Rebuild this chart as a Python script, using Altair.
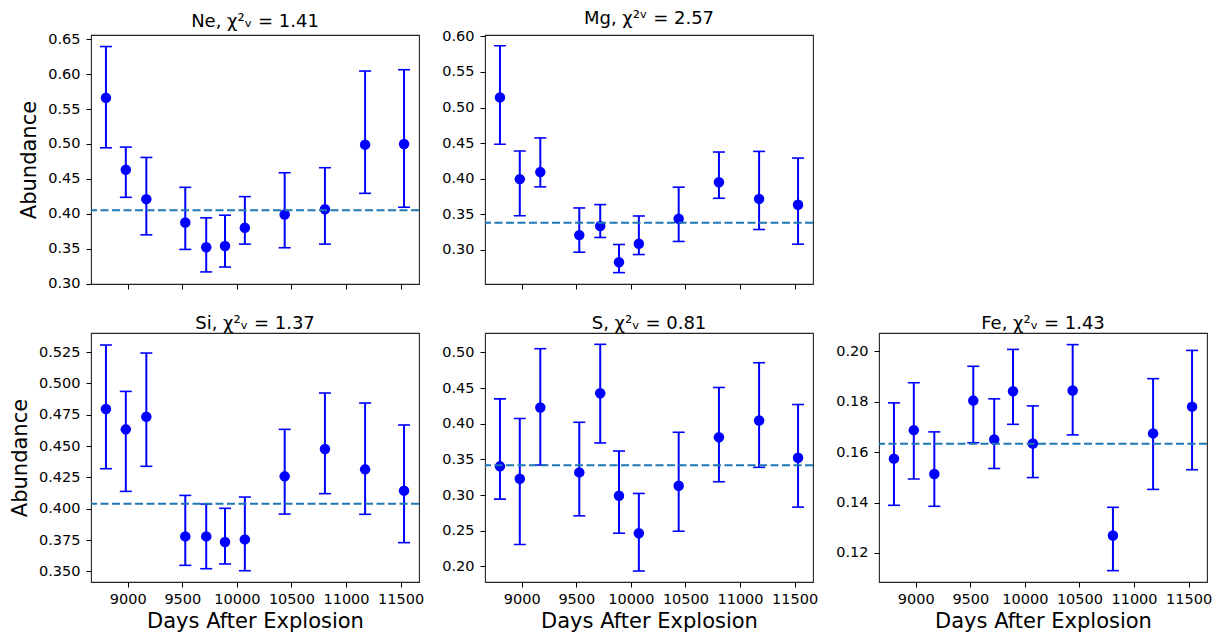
import altair as alt
import pandas as pd

# ---- data ----
days = [8800, 8982, 9170, 9527, 9719, 9891, 10073, 10438, 10807, 11175, 11532]
x_ticks = [9000, 9500, 10000, 10500, 11000, 11500]
x_domain = [8663, 11669]

ne_val = [0.566, 0.463, 0.421, 0.3875, 0.352, 0.354, 0.380, 0.399, 0.4065, 0.499, 0.500]
ne_hi = [0.6395, 0.4955, 0.4807, 0.4379, 0.3942, 0.398, 0.4246, 0.4588, 0.466, 0.6044, 0.6063]
ne_lo = [0.4945, 0.4236, 0.3699, 0.349, 0.3168, 0.3238, 0.3566, 0.3514, 0.3566, 0.4293, 0.4094]
ne_mean = 0.405

mg_val = [0.5143, 0.3994, 0.4093, 0.3207, 0.3334, 0.2826, 0.3085, 0.3438, 0.3951, 0.3716, 0.3635]
mg_hi = [0.5868, 0.4389, 0.4573, 0.3589, 0.3636, 0.3075, 0.3476, 0.3881, 0.4375, 0.4384, 0.4290]
mg_lo = [0.4484, 0.348, 0.3885, 0.2967, 0.3174, 0.268, 0.2934, 0.3118, 0.3725, 0.3286, 0.308]
mg_mean = 0.338

si_val = [0.4795, 0.4633, 0.4734, 0.3779, 0.3779, 0.3734, 0.3755, 0.4258, 0.4476, 0.4314, 0.4144]
si_hi = [0.5306, 0.4936, 0.5242, 0.4106, 0.4037, 0.4003, 0.4093, 0.4633, 0.4923, 0.4843, 0.4668]
si_lo = [0.4319, 0.4138, 0.4338, 0.3548, 0.3521, 0.3559, 0.3505, 0.3957, 0.412, 0.3955, 0.3729]
si_mean = 0.404

s_val = [0.3402, 0.3228, 0.4227, 0.3317, 0.4428, 0.2989, 0.2464, 0.313, 0.381, 0.4044, 0.3523]
s_hi = [0.4348, 0.4072, 0.5052, 0.402, 0.5113, 0.3617, 0.3022, 0.388, 0.4508, 0.4855, 0.4269]
s_lo = [0.2942, 0.2305, 0.342, 0.2708, 0.373, 0.2464, 0.1934, 0.2492, 0.3186, 0.3388, 0.283]
s_mean = 0.3416

fe_val = [0.1574, 0.1687, 0.1513, 0.1804, 0.165, 0.1841, 0.1634, 0.1844, 0.1269, 0.1674, 0.178]
fe_hi = [0.1795, 0.1875, 0.168, 0.194, 0.1811, 0.2007, 0.1783, 0.2026, 0.1381, 0.1891, 0.2003]
fe_lo = [0.1389, 0.1493, 0.1385, 0.1637, 0.1535, 0.171, 0.1499, 0.1668, 0.113, 0.1452, 0.153]
fe_mean = 0.1633

titles = {
    "Ne": "Ne, χ²ᵥ = 1.41",
    "Mg": "Mg, χ²ᵛ = 2.57",
    "Si": "Si, χ²ᵥ = 1.37",
    "S": "S, χ²ᵥ = 0.81",
    "Fe": "Fe, χ²ᵥ = 1.43",
}

FONT = "DejaVu Sans"
W, H = 328, 249


def panel(key, val, lo, hi, mean, ydom, yticks, yfmt, xlabels, ytitle):
    df = pd.DataFrame({"day": days, "val": val, "lo": lo, "hi": hi})
    xaxis = alt.Axis(
        values=x_ticks, format="d", labels=xlabels,
        title="Days After Explosion" if xlabels else None,
        grid=False, domain=False, tickColor="black", tickSize=5,
        labelFontSize=14.5, labelColor="black", labelPadding=5,
        labelOverlap=False,
        titleFontSize=21, titleFontWeight="normal", titleColor="black",
        titlePadding=5, labelFont=FONT, titleFont=FONT,
    )
    yaxis = alt.Axis(
        values=yticks, format=yfmt,
        title="Abundance" if ytitle else None,
        grid=False, domain=False, tickColor="black", tickSize=5,
        labelFontSize=14.5, labelColor="black", labelPadding=6,
        labelOverlap=False,
        titleFontSize=21, titleFontWeight="normal", titleColor="black",
        titlePadding=8, labelFont=FONT, titleFont=FONT,
    )
    xs = alt.Scale(domain=x_domain, nice=False, zero=False)
    ys = alt.Scale(domain=ydom, nice=False, zero=False)
    base = alt.Chart(df).encode(x=alt.X("day:Q", scale=xs, axis=xaxis))
    bars = base.mark_rule(color="#0000ff", strokeWidth=2).encode(
        y=alt.Y("lo:Q", scale=ys, axis=yaxis), y2="hi:Q")
    cap_lo = base.mark_tick(color="#0000ff", orient="horizontal", size=12,
                            thickness=1.6, opacity=1).encode(
        y=alt.Y("lo:Q", scale=ys, axis=yaxis))
    cap_hi = base.mark_tick(color="#0000ff", orient="horizontal", size=12,
                            thickness=1.6, opacity=1).encode(
        y=alt.Y("hi:Q", scale=ys, axis=yaxis))
    pts = base.mark_circle(color="#0000ff", size=110, opacity=1).encode(
        y=alt.Y("val:Q", scale=ys, axis=yaxis))
    mline = alt.Chart(pd.DataFrame({"m": [mean]})).mark_rule(
        color="#1f77b4", strokeWidth=2, strokeDash=[8, 3.5]).encode(
        y=alt.Y("m:Q", scale=ys, axis=yaxis))
    return alt.layer(bars, cap_lo, cap_hi, pts, mline).properties(
        width=W, height=H,
        view=alt.ViewBackground(stroke="#262626", strokeWidth=1.1),
        title=alt.TitleParams(titles[key], fontSize=18, font=FONT,
                              fontWeight="normal", color="black", offset=0),
    )


ne = panel("Ne", ne_val, ne_lo, ne_hi, ne_mean, [0.2995, 0.656],
           [0.30, 0.35, 0.40, 0.45, 0.50, 0.55, 0.60, 0.65], ".2f", False, True)
mg = panel("Mg", mg_val, mg_lo, mg_hi, mg_mean, [0.252, 0.602],
           [0.30, 0.35, 0.40, 0.45, 0.50, 0.55, 0.60], ".2f", False, False)
si = panel("Si", si_val, si_lo, si_hi, si_mean, [0.3415, 0.5402],
           [0.350, 0.375, 0.400, 0.425, 0.450, 0.475, 0.500, 0.525], ".3f", True, True)
s = panel("S", s_val, s_lo, s_hi, s_mean, [0.178, 0.5272],
          [0.20, 0.25, 0.30, 0.35, 0.40, 0.45, 0.50], ".2f", True, False)
fe = panel("Fe", fe_val, fe_lo, fe_hi, fe_mean, [0.1085, 0.2072],
           [0.12, 0.14, 0.16, 0.18, 0.20], ".2f", True, False)

blank = alt.Chart(pd.DataFrame({"a": [0]})).mark_point(opacity=0).encode(
    x=alt.X("a:Q", axis=None), y=alt.Y("a:Q", axis=None)
).properties(width=W, height=H, view=alt.ViewBackground(stroke="transparent"))

chart = alt.concat(
    ne, mg, blank, si, s, fe, columns=3,
    spacing={"row": 49, "column": 66}, bounds="flush",
).properties(
    padding={"left": 0, "top": 1, "right": 5, "bottom": 5},
).configure(font=FONT, background="white")

chart.save("out.html", embed_options={"renderer": "svg", "actions": False})
